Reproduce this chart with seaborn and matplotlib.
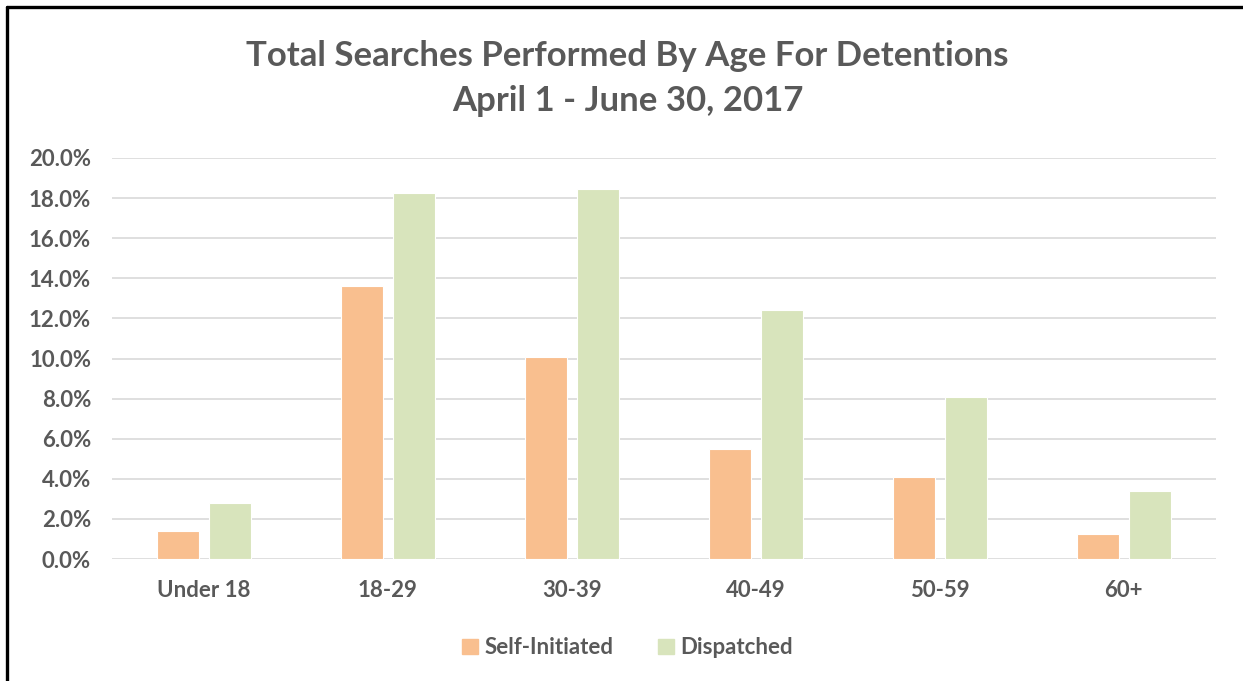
import numpy as np
import pandas as pd
import seaborn as sns
from matplotlib import pyplot as plt
from matplotlib.lines import Line2D
from matplotlib.ticker import FuncFormatter

# Values (percent of searches)
ages = ["Under 18", "18-29", "30-39", "40-49", "50-59", "60+"]
self_initiated = [1.4, 13.6, 10.1, 5.5, 4.1, 1.25]
dispatched = [2.8, 18.25, 18.45, 12.4, 8.1, 3.4]
groups = ["Self-Initiated", "Dispatched"]
colors = ["#F9BF8F", "#D8E4BC"]

df = pd.DataFrame({
    "age": ages * 2,
    "pct": self_initiated + dispatched,
    "type": [groups[0]] * len(ages) + [groups[1]] * len(ages),
})

sns.set_theme(style="white")
plt.rcParams["font.family"] = ["Lato", "DejaVu Sans"]
text_col = "#595959"

fig = plt.figure(figsize=(12.43, 6.81), dpi=100)
ax = fig.add_axes([0.090, 0.179, 0.888, 0.589])

sns.barplot(data=df, x="age", y="pct", hue="type", order=ages, hue_order=groups,
            palette=colors, saturation=1, width=0.566, gap=0.19, edgecolor="white",
            linewidth=0.8, ax=ax, legend=False)

ax.set_ylim(0, 20)
ax.set_yticks(np.arange(0, 20.1, 2))
ax.yaxis.set_major_formatter(FuncFormatter(lambda v, p: f"{v:.1f}%"))
ax.grid(axis="y", color="#D9D9D9", linewidth=1.2)
ax.set_axisbelow(True)
for s in ax.spines.values():
    s.set_visible(False)
ax.tick_params(axis="both", length=0, labelsize=16, labelcolor=text_col)
ax.tick_params(axis="x", pad=15)
ax.tick_params(axis="y", pad=15)
for lbl in ax.get_xticklabels() + ax.get_yticklabels():
    lbl.set_fontweight("bold")
ax.set_xlabel("")
ax.set_ylabel("")

fig.text(0.505, 0.918, "Total Searches Performed By Age For Detentions", ha="center", va="center",
         fontsize=25, fontweight="bold", color=text_col)
fig.text(0.505, 0.852, "April 1 - June 30, 2017", ha="center", va="center",
         fontsize=25, fontweight="bold", color=text_col)

handles = [plt.Rectangle((0, 0), 1, 1, color=c) for c in colors]
leg = fig.legend(handles, groups, loc="center", bbox_to_anchor=(0.505, 0.049), ncol=2, frameon=False,
                 handlelength=0.7, handleheight=0.7, handletextpad=0.3, columnspacing=2.0,
                 prop={"weight": "bold", "size": 16})
for t in leg.get_texts():
    t.set_color(text_col)

# black frame on left and top
fig.add_artist(Line2D([7 / 1243, 7 / 1243], [0, 1 - 7 / 681], color="black", linewidth=2.4,
                      transform=fig.transFigure))
fig.add_artist(Line2D([7 / 1243, 1], [1 - 7 / 681, 1 - 7 / 681], color="black", linewidth=2.4,
                      transform=fig.transFigure))

fig.savefig("out.png", dpi=100)
